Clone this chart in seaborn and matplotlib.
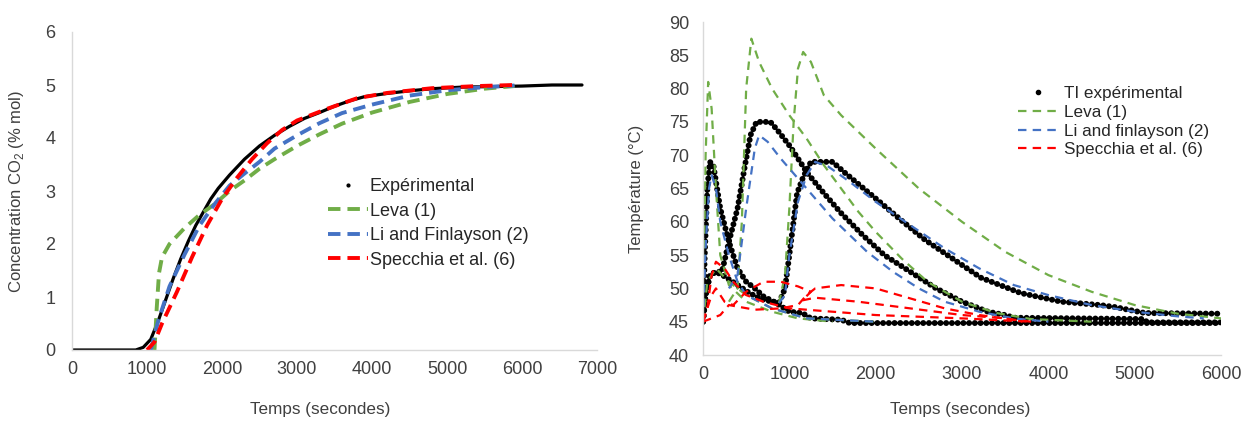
import numpy as np
import seaborn as sns
import matplotlib.pyplot as plt
from matplotlib.lines import Line2D

# ---- left panel: CO2 breakthrough ----
t_exp = [0, 300, 600, 850, 950, 1050, 1150, 1250, 1350, 1450, 1550, 1650, 1750, 1850, 1950, 2100,
         2300, 2500, 2700, 2900, 3100, 3300, 3500, 3700, 3900, 4200, 4500, 4800, 5200, 5600, 6000, 6400, 6800]
c_exp = [0, 0, 0, 0, 0.05, 0.2, 0.55, 0.95, 1.35, 1.72, 2.05, 2.35, 2.6, 2.85, 3.05, 3.3,
         3.6, 3.85, 4.05, 4.22, 4.37, 4.48, 4.6, 4.7, 4.78, 4.84, 4.89, 4.93, 4.96, 4.97, 4.98, 5.0, 5.0]

t_leva = [1100, 1130, 1160, 1200, 1300, 1500, 1700, 1900, 2100, 2300, 2500, 2700, 3000, 3300, 3600,
          4000, 4500, 5000, 5500, 5900]
c_leva = [0, 0.8, 1.45, 1.75, 2.0, 2.3, 2.55, 2.75, 3.0, 3.2, 3.42, 3.6, 3.85, 4.07, 4.27,
          4.48, 4.68, 4.83, 4.93, 4.98]

t_li = [1050, 1150, 1300, 1500, 1700, 1900, 2100, 2300, 2500, 2700, 3000, 3300, 3600, 4000,
        4500, 5000, 5500, 5900]
c_li = [0, 0.55, 1.2, 1.8, 2.35, 2.75, 3.1, 3.33, 3.55, 3.8, 4.05, 4.28, 4.47, 4.63,
        4.8, 4.9, 4.96, 4.99]

t_spe = [1000, 1100, 1200, 1400, 1600, 1800, 2000, 2200, 2400, 2600, 2800, 3000, 3400, 3800,
         4200, 4800, 5400, 5900]
c_spe = [0, 0.15, 0.5, 1.1, 1.75, 2.35, 2.85, 3.25, 3.6, 3.9, 4.15, 4.33, 4.55, 4.75,
         4.85, 4.94, 4.98, 5.0]

# ---- right panel: temperatures (3 thermocouples) ----
tc1_t = [0, 20, 50, 80, 120, 200, 300, 400, 500, 600, 700, 850, 1000, 1150, 1250, 1600, 1700, 6000]
tc1_T = [45, 55, 65, 69, 68.5, 62, 57, 53, 51, 50, 48.8, 47.8, 46.5, 46.3, 45.5, 45.3, 44.8, 44.8]

tc2_t = [0, 30, 80, 150, 220, 300, 400, 480, 550, 620, 780, 860, 1010, 1210, 1400, 1600, 1850,
         2100, 2400, 2700, 3000, 3300, 3500, 3600, 5100, 5150, 6000]
tc2_T = [45, 49, 52, 52.5, 52.5, 57, 62, 68, 73, 75, 75, 73.8, 71.3, 67.3, 64.3, 61.3, 58,
         55, 52.5, 50, 48, 46.5, 46, 45.6, 45.4, 44.9, 44.9]

tc3_t = [0, 30, 80, 150, 250, 400, 550, 700, 880, 950, 1000, 1090, 1160, 1250, 1500, 1640, 2000,
         2290, 2570, 2990, 3220, 3680, 4150, 4600, 4770, 5120, 6000]
tc3_T = [45, 49, 52, 52.5, 51.8, 50.5, 49.2, 48.3, 47.8, 50, 55, 64.3, 66.7, 69, 69, 67.4, 63.5,
         60.3, 57.3, 53.6, 51.6, 49.3, 48, 47.5, 47.2, 46.3, 46.2]

leva1_t = [0, 30, 60, 100, 150, 200, 300, 500, 800, 1100, 1500]
leva1_T = [45, 70, 81, 77, 65, 55, 50.5, 48, 46.5, 45.5, 45]
leva2_t = [300, 400, 450, 500, 560, 650, 800, 1000, 1200, 1400, 1600, 1800, 2000, 2300,
           2600, 3000, 3400, 3800, 4500]
leva2_T = [48, 50, 60, 80, 87.5, 84, 80, 76, 72.5, 68.5, 65, 61.5, 58.5, 54.5,
           51, 48, 46.3, 45.4, 45]
leva3_t = [880, 950, 1000, 1050, 1100, 1160, 1250, 1400, 1600, 2000, 2500, 3000, 3500,
           4000, 4500, 5000, 5500, 6000]
leva3_T = [47.8, 52, 62, 75, 83, 85.5, 84, 79, 76, 71, 65, 60, 55.5,
           52, 49.5, 47.5, 46.2, 45.5]
leva4_t = [0, 50, 150, 300, 500, 800, 1200, 2000]
leva4_T = [45, 51, 53, 51, 49, 47, 45.5, 45]

li1_t = [0, 30, 70, 100, 150, 200, 300, 400, 500, 800, 1200, 2000]
li1_T = [45, 56, 65, 67, 65, 60, 55, 51, 49, 47, 45.5, 45]
li2_t = [300, 400, 500, 600, 650, 750, 900, 1100, 1300, 1500, 1700, 1900, 2200, 2500,
         2800, 3200, 3600, 4000]
li2_T = [50, 52, 62, 71, 73, 72, 69.5, 66.5, 63.5, 60.5, 58, 55.5, 52.5, 50,
         48, 46.5, 45.5, 45]
li3_t = [880, 950, 1000, 1100, 1200, 1300, 1450, 1700, 2000, 2400, 2800, 3200, 3600, 4000,
         4500, 5000, 5500, 5800]
li3_T = [47.8, 49, 55, 63, 67, 69, 68.3, 66, 63, 59.5, 56, 53, 50.5, 49,
         47.5, 46.5, 45.8, 45.5]

spe1_t = [0, 50, 100, 150, 250, 350, 500, 700, 1000, 1500, 2000, 3000, 3800]
spe1_T = [45, 47, 52, 54, 53, 51, 49, 48, 47, 46.5, 46, 45.5, 45]
spe2_t = [0, 100, 150, 250, 350, 500, 700, 900, 1100, 1250, 1150, 1300, 1800, 2400, 3000, 3500, 3700]
spe2_T = [45, 49, 50, 48, 47.5, 49.5, 51, 51, 50.3, 49.5, 48.2, 48.6, 48, 47, 46, 45.5, 45]
spe3_t = [0, 200, 300, 600, 900, 1100, 1200, 1300, 1600, 2000, 2400, 2800, 3200, 3600, 3800]
spe3_T = [45, 46, 47.5, 46.8, 47, 47.5, 49, 50, 50.5, 50, 48.5, 47, 46, 45.3, 45]

GREEN = '#70AD47'
BLUE = '#4472C4'
RED = '#FF0000'
GREY_TXT = '#404040'

sns.set_style('white')
plt.rcParams['font.family'] = ['Liberation Sans', 'DejaVu Sans']
plt.rcParams['mathtext.fontset'] = 'custom'
plt.rcParams['mathtext.rm'] = 'Liberation Sans'

fig = plt.figure(figsize=(12.49, 4.21), dpi=100)
ax1 = fig.add_axes([72 / 1249, 71 / 421, 525 / 1249, 318 / 421])
ax2 = fig.add_axes([703 / 1249, 66 / 421, 518 / 1249, 333 / 421])

# left panel
sns.lineplot(x=t_exp, y=c_exp, ax=ax1, color='black', lw=2.3, sort=False, estimator=None)
for tt, cc, col in [(t_leva, c_leva, GREEN), (t_li, c_li, BLUE), (t_spe, c_spe, RED)]:
    sns.lineplot(x=tt, y=cc, ax=ax1, color=col, lw=2.8, sort=False, estimator=None,
                 linestyle=(0, (3.2, 1.8)))
ax1.set_xlim(0, 7000)
ax1.set_ylim(0, 6)
ax1.set_xticks(range(0, 7001, 1000))
ax1.set_yticks(range(0, 7))
ax1.set_xlabel('Temps (secondes)', fontsize=12.3, color=GREY_TXT)
ax1.set_ylabel('Concentration CO$_\\mathregular{2}$ (% mol)', fontsize=12, color=GREY_TXT)
ax1.xaxis.set_label_coords(0.472, -0.165)
ax1.yaxis.set_label_coords(-0.088, 0.5)

h1 = [Line2D([], [], color='black', marker='.', ms=4, ls='none'),
      Line2D([], [], color=GREEN, lw=2.8, ls=(0, (3.2, 1.8))),
      Line2D([], [], color=BLUE, lw=2.8, ls=(0, (3.2, 1.8))),
      Line2D([], [], color=RED, lw=2.8, ls=(0, (3.2, 1.8)))]
ax1.legend(h1, ['Expérimental', 'Leva (1)', 'Li and Finlayson (2)', 'Specchia et al. (6)'],
           loc='upper left', bbox_to_anchor=(328 / 1249, 1 - 178 / 421), bbox_transform=fig.transFigure,
           frameon=False, fontsize=13, handlelength=2.2, handletextpad=0.1, labelspacing=0.42,
           borderpad=0, borderaxespad=0)

# right panel
dots = dict(color='black', lw=4.3, linestyle=(0, (0.01, 0.95)), dash_capstyle='round',
            sort=False, estimator=None)
for tt, TT in [(tc1_t, tc1_T), (tc2_t, tc2_T), (tc3_t, tc3_T)]:
    sns.lineplot(x=tt, y=TT, ax=ax2, **dots)
dash_r = (0, (3.8, 2.8))
for tt, TT in [(leva1_t, leva1_T), (leva2_t, leva2_T), (leva3_t, leva3_T), (leva4_t, leva4_T)]:
    sns.lineplot(x=tt, y=TT, ax=ax2, color=GREEN, lw=1.6, linestyle=dash_r, sort=False, estimator=None)
for tt, TT in [(li1_t, li1_T), (li2_t, li2_T), (li3_t, li3_T)]:
    sns.lineplot(x=tt, y=TT, ax=ax2, color=BLUE, lw=1.6, linestyle=dash_r, sort=False, estimator=None)
for tt, TT in [(spe1_t, spe1_T), (spe2_t, spe2_T), (spe3_t, spe3_T)]:
    sns.lineplot(x=tt, y=TT, ax=ax2, color=RED, lw=1.6, linestyle=dash_r, sort=False, estimator=None)
ax2.set_xlim(0, 6000)
ax2.set_ylim(40, 90)
ax2.set_xticks(range(0, 6001, 1000))
ax2.set_yticks(range(40, 91, 5))
ax2.set_xlabel('Temps (secondes)', fontsize=12.3, color=GREY_TXT)
ax2.set_ylabel('Température (°C)', fontsize=12, color=GREY_TXT)
ax2.xaxis.set_label_coords(0.496, -0.141)
ax2.yaxis.set_label_coords(-0.114, 0.5)

h2 = [Line2D([], [], color='black', marker='o', ms=3, ls='none'),
      Line2D([], [], color=GREEN, lw=1.6, ls=dash_r),
      Line2D([], [], color=BLUE, lw=1.6, ls=dash_r),
      Line2D([], [], color=RED, lw=1.6, ls=dash_r)]
ax2.legend(h2, ['TI expérimental', 'Leva (1)', 'Li and finlayson (2)', 'Specchia et al. (6)'],
           loc='upper left', bbox_to_anchor=(1018 / 1249, 1 - 86 / 421), bbox_transform=fig.transFigure,
           frameon=False, fontsize=12.3, handlelength=2.3, handletextpad=0.4, labelspacing=0.22,
           borderpad=0, borderaxespad=0)

for ax in (ax1, ax2):
    sns.despine(ax=ax)
    for s in ('left', 'bottom'):
        ax.spines[s].set_color('#D9D9D9')
        ax.spines[s].set_linewidth(1.0)
    ax.tick_params(length=0, labelsize=13, labelcolor=GREY_TXT)
    ax.tick_params(axis='x', pad=8)
ax1.tick_params(axis='y', pad=12)
ax2.tick_params(axis='y', pad=10)

fig.savefig('out.png', dpi=100)
